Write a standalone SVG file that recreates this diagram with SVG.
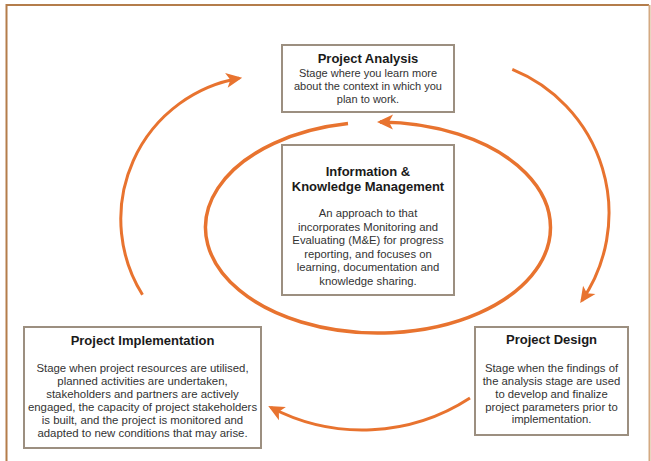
<svg xmlns="http://www.w3.org/2000/svg" width="651" height="461" viewBox="0 0 651 461">
<defs>
<style>
.box{fill:#ffffff;stroke:#9c8f80;stroke-width:2}
.t{font-family:"Liberation Sans",Arial,sans-serif;font-weight:bold;font-size:13px;fill:#1a1a1a;text-anchor:middle}
.b{font-family:"Liberation Sans",Arial,sans-serif;fill:#333333;text-anchor:middle}
.arc{fill:none;stroke:#e8732f;stroke-width:3}
</style>
<marker id="ah" viewBox="-18 -9 20 18" refX="-3" refY="0" markerWidth="20" markerHeight="18" orient="auto" markerUnits="userSpaceOnUse">
<path d="M0,0 L-16,-7.5 L-12,0 L-16,7.5 Z" fill="#e8732f"/>
</marker>
</defs>
<rect width="651" height="461" fill="#ffffff"/>
<g id="frame">
<path d="M6.5,461 V5 H649" fill="none" stroke="#b47d4b" stroke-width="2"/>
<path d="M649.5,5 V461" fill="none" stroke="#d4aa82" stroke-width="2"/>
</g>
<g id="connectors">
<path class="arc" d="M142.5,294.8 A143,143 0 0 1 239.2,78.2" marker-end="url(#ah)"/>
<path class="arc" d="M512.3,69.4 A155,155 0 0 1 581.9,300.6" marker-end="url(#ah)"/>
<path class="arc" d="M470,398 A197.2,197.2 0 0 1 270.9,407.5" marker-end="url(#ah)"/>
<path class="arc" style="stroke-width:3.5" d="M348,123.6 A172.5,105.5 0 1 0 380,122" marker-end="url(#ah)"/>
</g>
<g id="project-analysis">
<rect class="box" x="282" y="45" width="172" height="67"/>
<text class="t" x="368" y="63">Project Analysis</text>
<text class="b" font-size="11" x="368" y="77">Stage where you learn more</text>
<text class="b" font-size="11" x="368" y="90">about the context in which you</text>
<text class="b" font-size="11" x="368" y="103">plan to work.</text>
</g>
<g id="information-knowledge-management">
<rect class="box" x="282" y="145" width="172" height="150"/>
<text class="t" x="368" y="176">Information &amp;</text>
<text class="t" x="368" y="191">Knowledge Management</text>
<text class="b" font-size="11.3" x="368" y="217">An approach to that</text>
<text class="b" font-size="11.3" x="368" y="231">incorporates Monitoring and</text>
<text class="b" font-size="11.3" x="368" y="244">Evaluating (M&amp;E) for progress</text>
<text class="b" font-size="11.3" x="368" y="258">reporting, and focuses on</text>
<text class="b" font-size="11.3" x="368" y="271">learning, documentation and</text>
<text class="b" font-size="11.3" x="368" y="285">knowledge sharing.</text>
</g>
<g id="project-implementation">
<rect class="box" x="24" y="327" width="237" height="121"/>
<text class="t" x="142.5" y="345">Project Implementation</text>
<text class="b" font-size="11.4" x="142.5" y="372">Stage when project resources are utilised,</text>
<text class="b" font-size="11.4" x="142.5" y="385">planned activities are undertaken,</text>
<text class="b" font-size="11.4" x="142.5" y="398">stakeholders and partners are actively</text>
<text class="b" font-size="11.4" x="142.5" y="411">engaged, the capacity of project stakeholders</text>
<text class="b" font-size="11.4" x="142.5" y="424">is built, and the project is monitored and</text>
<text class="b" font-size="11.4" x="142.5" y="437">adapted to new conditions that may arise.</text>
</g>
<g id="project-design">
<rect class="box" x="475" y="327" width="153" height="108"/>
<text class="t" x="551.5" y="344">Project Design</text>
<text class="b" font-size="11.3" x="551.5" y="372">Stage when the findings of</text>
<text class="b" font-size="11.3" x="551.5" y="385">the analysis stage are used</text>
<text class="b" font-size="11.3" x="551.5" y="398">to develop and finalize</text>
<text class="b" font-size="11.3" x="551.5" y="411">project parameters prior to</text>
<text class="b" font-size="11.3" x="551.5" y="423">implementation.</text>
</g>
</svg>
